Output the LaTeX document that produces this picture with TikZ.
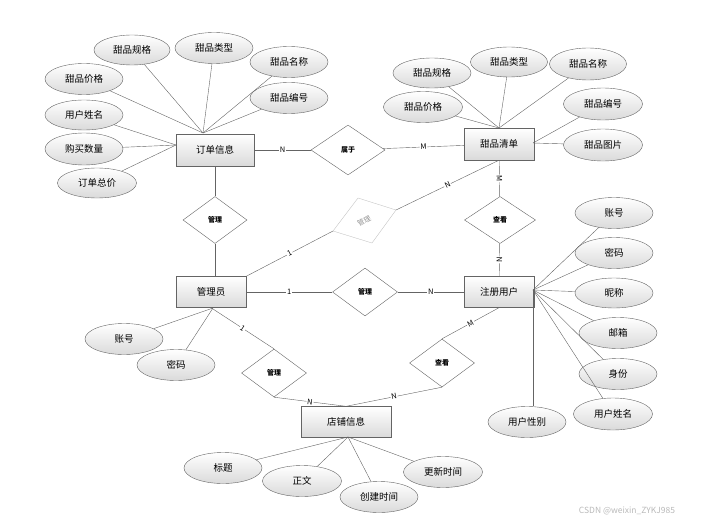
\documentclass[tikz,border=0pt]{standalone}
\usepackage{fontspec}
\setmainfont{Noto Sans CJK SC}
\usetikzlibrary{shapes.geometric}

\definecolor{edgegray}{HTML}{646464}
\definecolor{shadegray}{HTML}{DADADA}

\begin{document}
\begin{tikzpicture}[x=1pt,y=-1pt,font=\fontsize{9.5}{11}\selectfont,
  entity/.style={draw=edgegray,top color=white,bottom color=shadegray,minimum height=32pt,inner sep=0pt},
  attr/.style={ellipse,draw=edgegray,top color=white,bottom color=shadegray,minimum width=78pt,minimum height=31pt,inner sep=0pt},
  rel/.style={diamond,draw=edgegray,fill=white,minimum width=65pt,minimum height=48pt,inner sep=0pt,font=\fontsize{7}{8}\selectfont\bfseries},
  card/.style={fill=white,inner sep=0.8pt,sloped,font=\fontsize{7.5}{8}\selectfont},
  link/.style={draw=edgegray}]
\useasboundingbox (0,0) rectangle (714,524);

% entities
\node [entity,minimum width=78pt] (ord) at (215,150) {订单信息};
\node [entity,minimum width=70pt] (lst) at (499,144) {甜品清单};
\node [entity,minimum width=70pt,minimum height=31pt] (adm) at (211,292) {管理员};
\node [entity,minimum width=70pt,minimum height=31pt] (usr) at (499,292) {注册用户};
\node [entity,minimum width=90pt,minimum height=31pt] (shop) at (346,422) {店铺信息};

% relations
\node [rel,minimum width=74pt,minimum height=50pt] (belong) at (348,150) {属于};
\node [rel,minimum width=64pt,minimum height=47pt] (mgA) at (215,220) {管理};
\node [rel,minimum width=71pt,minimum height=47pt] (seeA) at (500,220) {查看};
\node [rel] (mgB) at (365,292) {管理};
\node [rel] (mgC) at (274,373) {管理};
\node [rel] (seeB) at (442,363) {查看};

% faded relation
\coordinate [] (fdL) at (333,231);
\coordinate [] (fdT) at (358,198);
\coordinate [] (fdR) at (396,210);
\coordinate [] (fdB) at (372,243);
\draw [draw=gray!45,fill=white] (fdL) -- (fdT) -- (fdR) -- (fdB) -- cycle;
\node [rotate=28,inner sep=0pt,text=gray!85,font=\fontsize{7}{8}\selectfont] (mgF) at (364,221) {管理};

% relation lines
\draw [link] (ord) -- node[card] {N} (belong);
\draw [link] (belong) -- node[card] {M} (lst);
\draw [link] (ord) -- (mgA);
\draw [link] (mgA) -- (mgA |- adm.north);
\draw [link] (lst) -- node[card] {M} (seeA);
\draw [link] (seeA) -- node[card] {N} (usr);
\draw [link] (fdR) -- node[card] {N} (lst.south);
\draw [link] (fdL) -- node[card] {1} (adm.north east);
\draw [link] (adm) -- node[card] {1} (mgB);
\draw [link] (mgB) -- node[card] {N} (usr);
\draw [link] (adm.south) -- node[card] {1} (mgC.north);
\draw [link] (mgC.south) -- node[card] {N} (shop.north);
\draw [link] (usr.south) -- node[card] {M} (seeB.north);
\draw [link] (seeB.south) -- node[card] {N} (shop.north);

% order attributes
\coordinate [] (ordT) at (203,133);
\coordinate [] (ordW) at (176,145);
\node [attr,minimum width=76pt,minimum height=30pt] (oSpec) at (132,50) {甜品规格};
\node [attr] (oType) at (214,48) {甜品类型};
\node [attr] (oName) at (289,62) {甜品名称};
\node [attr] (oNo) at (289,98) {甜品编号};
\node [attr] (oPrice) at (84,79) {甜品价格};
\node [attr,minimum height=30pt] (oUser) at (84,115) {用户姓名};
\node [attr,minimum height=32pt] (oNum) at (84,149) {购买数量};
\node [attr,minimum width=79pt,minimum height=30pt] (oSum) at (97,183) {订单总价};
\foreach \a in {oSpec,oType,oName,oNo,oPrice}
  \draw [link] (\a) -- (ordT);
\foreach \a in {oUser,oNum,oSum}
  \draw [link] (\a) -- (ordW);

% dessert attributes
\coordinate [] (lstT) at (499,128);
\coordinate [] (lstE) at (533,143);
\node [attr,minimum height=30pt] (dSpec) at (432,73) {甜品规格};
\node [attr,minimum width=77pt,minimum height=30pt] (dType) at (509,62) {甜品类型};
\node [attr,minimum width=77pt,minimum height=32pt] (dName) at (588,64) {甜品名称};
\node [attr,minimum width=79pt] (dPrice) at (423,107) {甜品价格};
\node [attr,minimum width=79pt,minimum height=32pt] (dNo) at (603,104) {甜品编号};
\node [attr,minimum width=79pt,minimum height=32pt] (dPic) at (603,145) {甜品图片};
\foreach \a in {dSpec,dType,dName,dPrice}
  \draw [link] (\a) -- (lstT);
\draw [link] (dNo) -- (lstE);
\draw [link] (dPic) -- (lstE);

% admin attributes
\coordinate [] (admS) at (213,308);
\node [attr] (aId) at (124,339) {账号};
\node [attr] (aPw) at (176,365) {密码};
\draw [link] (aId) -- (admS);
\draw [link] (aPw) -- (admS);

% user attributes
\coordinate [] (usrE) at (533,290);
\node [attr] (uId) at (614,213) {账号};
\node [attr] (uPw) at (614,253) {密码};
\node [attr,minimum height=30pt] (uNick) at (614,293) {昵称};
\node [attr] (uMail) at (618,333) {邮箱};
\node [attr] (uRole) at (618,374) {身份};
\node [attr,minimum width=79pt,minimum height=32pt] (uName) at (613,414) {用户姓名};
\node [attr] (uSex) at (527,422) {用户性别};
\foreach \a in {uId,uPw,uNick,uMail,uRole,uName}
  \draw [link] (\a) -- (usrE);
\draw [link] (usrE) -- (usrE |- uSex.north);

% shop attributes
\coordinate [] (shopS) at (348,437);
\node [attr] (sTitle) at (223,468) {标题};
\node [attr,minimum width=79pt] (sText) at (302,481) {正文};
\node [attr] (sNew) at (379,497) {创建时间};
\node [attr,minimum width=79pt] (sUpd) at (443,472) {更新时间};
\foreach \a in {sTitle,sText,sNew,sUpd}
  \draw [link] (\a) -- (shopS);

\node [text=gray!55,font=\fontsize{8.5}{9}\selectfont] (mark) at (627,511) {CSDN @weixin\_ZYKJ985};
\end{tikzpicture}
\end{document}
